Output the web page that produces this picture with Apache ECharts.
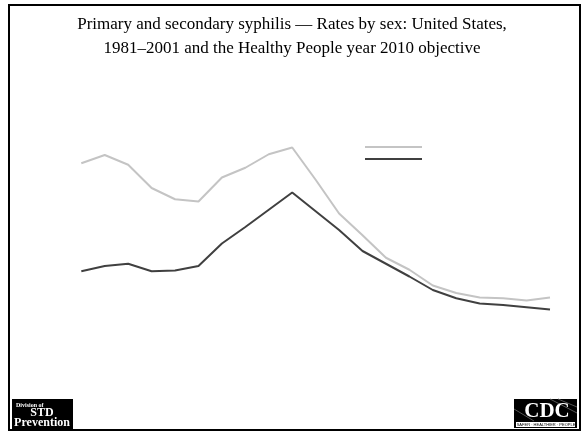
<!DOCTYPE html>
<html>
<head>
<meta charset="utf-8">
<script src="https://cdn.jsdelivr.net/npm/echarts@6/dist/echarts.min.js"></script>
<style>html,body{margin:0;padding:0;background:#fff}#c{width:584px;height:432px}</style>
</head>
<body>
<div id="c"></div>
<script>
const years = ['1981','1982','1983','1984','1985','1986','1987','1988','1989','1990','1991','1992','1993','1994','1995','1996','1997','1998','1999','2000','2001'];
const men = [20.9,22.0,20.7,17.6,16.1,15.8,19.0,20.3,22.1,23.0,18.7,14.2,11.3,8.3,6.7,4.6,3.6,3.0,2.9,2.6,3.0];
const women = [6.5,7.2,7.5,6.5,6.6,7.2,10.2,12.4,14.7,17.0,14.5,12.0,9.2,7.5,5.8,4.0,2.9,2.2,2.0,1.7,1.4];
const titleText = 'Primary and secondary syphilis \u2014 Rates by sex: United States,\n1981\u20132001 and the Healthy People year 2010 objective';

const chart = echarts.init(document.getElementById('c'), null, {renderer: 'canvas'});
chart.setOption({
  animation: false,
  backgroundColor: '#fff',
  title: {
    text: titleText,
    left: 'center',
    top: 8,
    textStyle: {fontFamily: 'Liberation Serif', fontSize: 17, fontWeight: 'normal', color: '#000', lineHeight: 24, align: 'center'}
  },
  legend: {
    orient: 'vertical',
    left: 365,
    top: 146,
    padding: 0,
    itemWidth: 57,
    itemHeight: 2,
    itemGap: 10,
    icon: 'rect',
    formatter: function () { return ''; },
    textStyle: {fontSize: 1, lineHeight: 1},
    data: ['Men', 'Women']
  },
  grid: {left: 81.3, right: 34, top: 95, bottom: 112},
  xAxis: {
    type: 'category', data: years, boundaryGap: false,
    axisLine: {show: false}, axisTick: {show: false}, axisLabel: {show: false}, splitLine: {show: false}
  },
  yAxis: {
    type: 'value', min: 0, max: 30,
    axisLine: {show: false}, axisTick: {show: false}, axisLabel: {show: false}, splitLine: {show: false}
  },
  series: [
    {name: 'Men', type: 'line', data: men, symbol: 'none', color: '#c4c4c4', lineStyle: {width: 2, color: '#c4c4c4'}},
    {name: 'Women', type: 'line', data: women, symbol: 'none', color: '#404040', lineStyle: {width: 2, color: '#404040'}}
  ],
  graphic: [
    {type: 'rect', shape: {x: 9, y: 5, width: 571, height: 425}, style: {fill: 'none', stroke: '#000', lineWidth: 2}, z: 0},
    {type: 'group', x: 12, y: 399, z: 10, children: [
      {type: 'rect', shape: {x: 0, y: 0, width: 61, height: 31}, style: {fill: '#000'}},
      {type: 'text', x: 4, y: 3, style: {text: 'Division of', fill: '#fff', font: 'bold 6px "Liberation Serif"'}},
      {type: 'text', x: 30, y: 8, style: {text: 'STD', fill: '#fff', font: 'bold 12px "Liberation Serif"', textAlign: 'center'}},
      {type: 'text', x: 30, y: 18, style: {text: 'Prevention', fill: '#fff', font: 'bold 12px "Liberation Serif"', textAlign: 'center'}}
    ]},
    {type: 'group', x: 514, y: 399, z: 10, children: [
      {type: 'rect', shape: {x: 0, y: 0, width: 63, height: 29}, style: {fill: '#000'}},
      {type: 'line', shape: {x1: 36, y1: 0, x2: 63, y2: 14}, style: {stroke: '#555', lineWidth: 1}},
      {type: 'line', shape: {x1: 44, y1: 0, x2: 63, y2: 8}, style: {stroke: '#555', lineWidth: 1}},
      {type: 'line', shape: {x1: 0, y1: 10, x2: 20, y2: 22}, style: {stroke: '#555', lineWidth: 1}},
      {type: 'text', x: 33, y: 2, style: {text: 'CDC', fill: '#fff', font: 'bold 21px "Liberation Serif"', textAlign: 'center'}},
      {type: 'rect', shape: {x: 2, y: 23, width: 59, height: 5}, style: {fill: '#fff'}},
      {type: 'text', x: 32, y: 23.5, style: {text: 'SAFER \u00b7 HEALTHIER \u00b7 PEOPLE', fill: '#000', font: '4px "Liberation Sans"', textAlign: 'center'}}
    ]}
  ]
});
</script>
</body>
</html>
